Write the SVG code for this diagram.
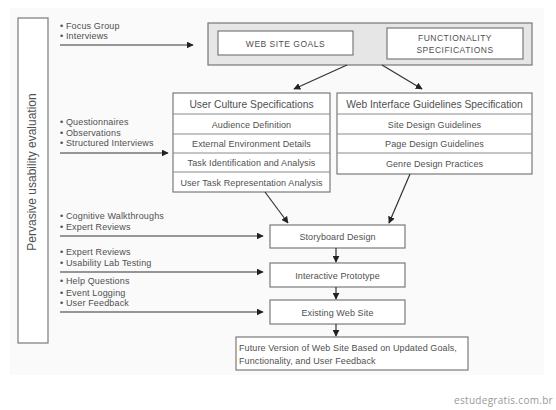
<svg xmlns="http://www.w3.org/2000/svg" width="556" height="410" viewBox="0 0 556 410">
<style>
text{font-family:"Liberation Sans",Arial,sans-serif;fill:#505050}
.box{fill:#fff;stroke:#7a7a7a;stroke-width:1.2}
.sep{stroke:#8a8a8a;stroke-width:1}
.t9{font-size:10.3px}
.t8{font-size:9px;letter-spacing:0.1px}
.c{text-anchor:middle}
.lst{font-size:9px;letter-spacing:0.15px}
.cap{font-size:8.5px;letter-spacing:0.5px}
.ln{stroke:#333;stroke-width:1.2;fill:none;marker-end:url(#ah)}
</style>
<defs>
<marker id="ah" viewBox="0 0 10 10" refX="9" refY="5" markerWidth="7" markerHeight="7" markerUnits="userSpaceOnUse" orient="auto">
<path d="M0,0 L10,5 L0,10 z" fill="#222"/>
</marker>
</defs>
<rect x="10" y="8" width="534" height="367" fill="#fafafa"/>
<g id="pervasive">
<rect x="18" y="18" width="30" height="325" class="box"/>
<text transform="translate(36,172) rotate(-90)" class="c" style="font-size:12px">Pervasive usability evaluation</text>
</g>
<g id="goals">
<rect x="208" y="23" width="324" height="42" fill="#e6e6e6" stroke="#777" stroke-width="1.2"/>
<rect x="218" y="31" width="135" height="24" class="box"/>
<text x="285.5" y="46.5" class="c cap">WEB SITE GOALS</text>
<rect x="387" y="28" width="136" height="31" class="box"/>
<text x="455" y="40.5" class="c cap">FUNCTIONALITY</text>
<text x="455" y="52.5" class="c cap">SPECIFICATIONS</text>
</g>
<g id="user-culture">
<rect x="173" y="93" width="157" height="99" class="box"/>
<line x1="173" y1="114" x2="330" y2="114" class="sep"/>
<line x1="173" y1="134" x2="330" y2="134" class="sep"/>
<line x1="173" y1="153" x2="330" y2="153" class="sep"/>
<line x1="173" y1="172" x2="330" y2="172" class="sep"/>
<text x="251.5" y="107.5" class="c t9">User Culture Specifications</text>
<text x="251.5" y="127.5" class="c t8">Audience Definition</text>
<text x="251.5" y="147" class="c t8">External Environment Details</text>
<text x="251.5" y="166" class="c t8">Task Identification and Analysis</text>
<text x="251.5" y="185.5" class="c t8">User Task Representation Analysis</text>
</g>
<g id="web-interface">
<rect x="337" y="93" width="195" height="81" class="box"/>
<line x1="337" y1="114" x2="532" y2="114" class="sep"/>
<line x1="337" y1="134" x2="532" y2="134" class="sep"/>
<line x1="337" y1="153" x2="532" y2="153" class="sep"/>
<text x="434.5" y="107.5" class="c t9">Web Interface Guidelines Specification</text>
<text x="434.5" y="127.5" class="c t8">Site Design Guidelines</text>
<text x="434.5" y="147" class="c t8">Page Design Guidelines</text>
<text x="434.5" y="166.5" class="c t8">Genre Design Practices</text>
</g>
<g id="storyboard">
<rect x="270" y="225" width="135" height="23" class="box"/>
<text x="337.5" y="240" class="c t8">Storyboard Design</text>
</g>
<g id="prototype">
<rect x="270" y="263" width="135" height="24" class="box"/>
<text x="337.5" y="278.5" class="c t8">Interactive Prototype</text>
</g>
<g id="existing">
<rect x="270" y="300" width="135" height="24" class="box"/>
<text x="337.5" y="315.5" class="c t8">Existing Web Site</text>
</g>
<g id="future">
<rect x="236" y="337" width="232" height="33" class="box"/>
<text x="239" y="350.5" class="t8">Future Version of Web Site Based on Updated Goals,</text>
<text x="239" y="364" class="t8">Functionality, and User Feedback</text>
</g>
<g id="inputs">
<text x="60" y="29" class="lst">• Focus Group</text>
<text x="60" y="39" class="lst">• Interviews</text>
<text x="60" y="125" class="lst">• Questionnaires</text>
<text x="60" y="135.5" class="lst">• Observations</text>
<text x="60" y="146" class="lst">• Structured Interviews</text>
<text x="60" y="219" class="lst">• Cognitive Walkthroughs</text>
<text x="60" y="230" class="lst">• Expert Reviews</text>
<text x="60" y="255" class="lst">• Expert Reviews</text>
<text x="60" y="266" class="lst">• Usability Lab Testing</text>
<text x="60" y="284" class="lst">• Help Questions</text>
<text x="60" y="295.5" class="lst">• Event Logging</text>
<text x="60" y="306" class="lst">• User Feedback</text>
</g>
<g id="connectors">
<line x1="60" y1="45" x2="193" y2="45" class="ln"/>
<line x1="60" y1="153" x2="168" y2="153" class="ln"/>
<line x1="60" y1="236" x2="263" y2="236" class="ln"/>
<line x1="60" y1="272" x2="263" y2="272" class="ln"/>
<line x1="60" y1="312" x2="263" y2="312" class="ln"/>
<line x1="347" y1="65" x2="294" y2="89" class="ln"/>
<line x1="382" y1="65" x2="422" y2="89" class="ln"/>
<line x1="265" y1="192" x2="288" y2="223" class="ln"/>
<line x1="410" y1="174" x2="389" y2="223" class="ln"/>
<line x1="336" y1="248" x2="336" y2="262" class="ln"/>
<line x1="336" y1="287" x2="336" y2="299" class="ln"/>
<line x1="336" y1="324" x2="336" y2="336" class="ln"/>
</g>
<text x="553" y="404" style="font-family:'Open Sans',sans-serif;font-size:10px;fill:#999;text-anchor:end;letter-spacing:0.3px">estudegratis.com.br</text>
</svg>
